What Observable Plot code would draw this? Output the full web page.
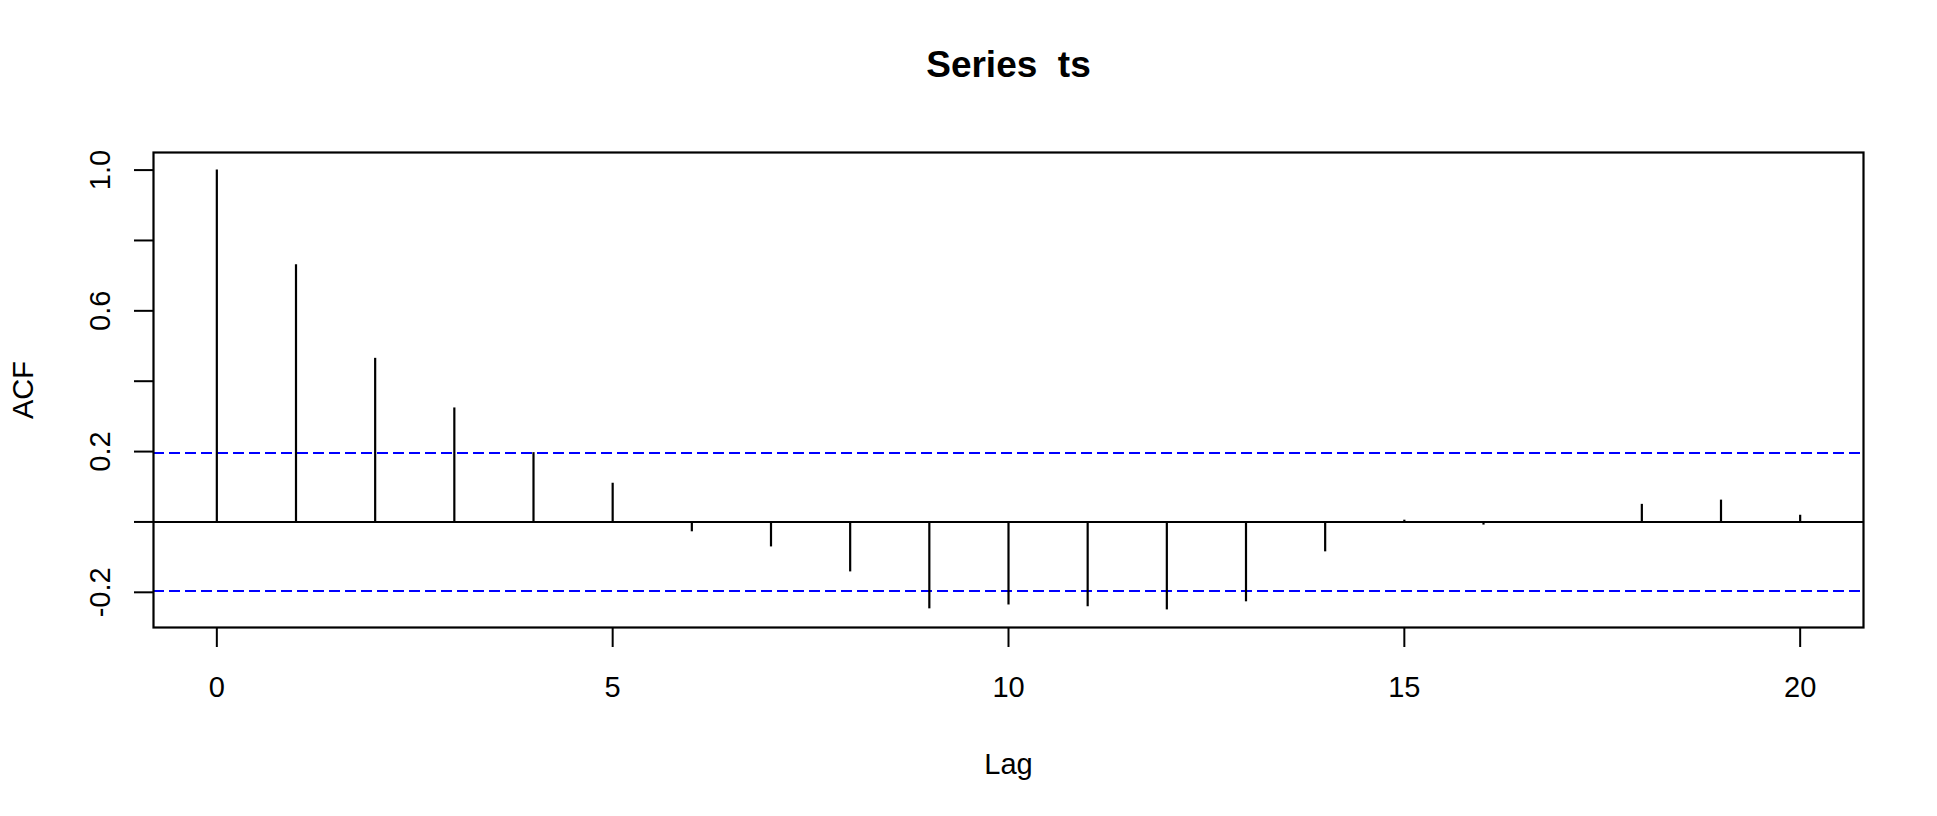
<!DOCTYPE html>
<html>
<head>
<meta charset="utf-8">
<script src="https://cdn.jsdelivr.net/npm/d3@7"></script>
<script src="https://cdn.jsdelivr.net/npm/@observablehq/plot@0.6"></script>
<style>
  html, body { margin: 0; padding: 0; background: #fff; }
  #chart svg { display: block; }
</style>
</head>
<body>
<div id="chart"></div>
<script>
// Data
const lags = [0, 1, 2, 3, 4, 5, 6, 7, 8, 9, 10, 11, 12, 13, 14, 15, 16, 17, 18, 19, 20];
const acfValues = [1.0, 0.731, 0.465, 0.324, 0.197, 0.110, -0.028, -0.071, -0.142, -0.247, -0.236, -0.241, -0.250, -0.227, -0.085, 0.005, -0.009, -0.001, 0.050, 0.062, 0.019];
const ciBound = 0.196;
const xTicks = [0, 5, 10, 15, 20];
const yTicks = [-0.2, 0, 0.2, 0.4, 0.6, 0.8, 1.0];
const yTickLabels = ["-0.2", "0.2", "0.6", "1.0"];
const titleText = "Series  ts";
const xLabel = "Lag";
const yLabel = "ACF";

const data = lags.map((lag, i) => ({lag, acf: acfValues[i]}));

const font = "'Liberation Sans', Arial, Helvetica, sans-serif";

const chart = Plot.plot({
  width: 1937,
  height: 816,
  marginLeft: 153,
  marginRight: 74,
  marginTop: 152,
  marginBottom: 189,
  style: {fontFamily: font, background: "#fff", color: "#000"},
  x: {domain: [-0.8, 20.8]},
  y: {domain: [-0.30, 1.05]},
  marks: [
    Plot.ruleY([ciBound, -ciBound], {stroke: "#0000ff", strokeWidth: 2, strokeDasharray: "11,5"}),
    Plot.ruleY([0], {stroke: "#000", strokeWidth: 2}),
    Plot.ruleX(data, {x: "lag", y1: 0, y2: "acf", stroke: "#000", strokeWidth: 2.2}),
    Plot.frame({stroke: "#000", strokeWidth: 2.2}),
    Plot.axisX({ticks: xTicks, tickSize: 20, tickPadding: 29, fontSize: 29, label: null, strokeWidth: 2, tickFormat: d => String(d)}),
    Plot.axisY({ticks: yTicks, tickSize: 19, tickFormat: () => "", label: null, strokeWidth: 2}),
    Plot.text(yTickLabels, {y: d => +d, text: d => d, frameAnchor: "left", dx: -44, rotate: -90, textAnchor: "middle", lineAnchor: "bottom", fontSize: 29, fill: "#000"}),
    Plot.text([xLabel], {frameAnchor: "bottom", dy: 146, lineAnchor: "bottom", textAnchor: "middle", fontSize: 29, fill: "#000"}),
    Plot.text([yLabel], {frameAnchor: "left", dx: -121, rotate: -90, lineAnchor: "bottom", textAnchor: "middle", fontSize: 29, fill: "#000"}),
    Plot.text([titleText], {frameAnchor: "top", dy: -76, lineAnchor: "bottom", textAnchor: "middle", fontSize: 37, fontWeight: "bold", fill: "#000"})
  ]
});
document.getElementById("chart").appendChild(chart);
</script>
</body>
</html>
